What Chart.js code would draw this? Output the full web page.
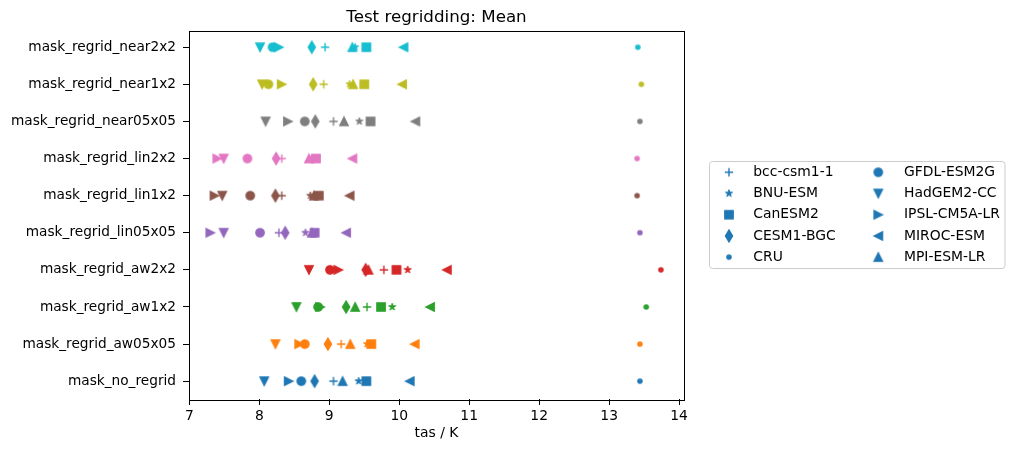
<!DOCTYPE html>
<html>
<head>
<meta charset="utf-8">
<script src="https://cdn.jsdelivr.net/npm/chart.js@4.4.1/dist/chart.umd.min.js"></script>
<style>
  html, body { margin: 0; padding: 0; background: #fff; }
  #wrap { width: 1014px; height: 453px; }
</style>
</head>
<body>
<div id="wrap"><canvas id="regrid"></canvas></div>
<script>
// rows, bottom to top
const rows = [
  "mask_no_regrid", "mask_regrid_aw05x05", "mask_regrid_aw1x2", "mask_regrid_aw2x2",
  "mask_regrid_lin05x05", "mask_regrid_lin1x2", "mask_regrid_lin2x2",
  "mask_regrid_near05x05", "mask_regrid_near1x2", "mask_regrid_near2x2",
];
const rowColors = [
  "#1f77b4", "#ff7f0e", "#2ca02c", "#d62728", "#9467bd",
  "#8c564b", "#e377c2", "#7f7f7f", "#bcbd22", "#17becf",
];

const models = [
  "bcc-csm1-1", "BNU-ESM", "CanESM2", "CESM1-BGC", "CRU",
  "GFDL-ESM2G", "HadGEM2-CC", "IPSL-CM5A-LR", "MIROC-ESM", "MPI-ESM-LR",
];
const markers = ["plus", "star", "square", "thinDiamond", "point", "circle", "triDown", "triRight", "triLeft", "triUp"];

// tas / K per model, one value per row (same order as rows)
const bccCsm = [9.06, 9.17, 9.54, 9.78, 8.28, 8.32, 8.32, 9.06, 8.92, 8.94];
const bnuEsm = [9.42, 9.54, 9.90, 10.12, 8.66, 8.73, 8.75, 9.43, 9.29, 9.37];
const canEsm = [9.53, 9.60, 9.74, 9.96, 8.79, 8.85, 8.81, 9.59, 9.50, 9.53];
const cesmBgc = [8.79, 8.98, 9.24, 9.52, 8.37, 8.23, 8.24, 8.80, 8.77, 8.75];
const cru = [13.44, 13.44, 13.53, 13.74, 13.44, 13.40, 13.40, 13.44, 13.46, 13.41];
const gfdl = [8.60, 8.65, 8.84, 9.01, 8.01, 7.87, 7.83, 8.65, 8.13, 8.19];
const hadgem = [8.07, 8.23, 8.53, 8.71, 7.49, 7.47, 7.49, 8.09, 8.04, 8.01];
const ipsl = [8.42, 8.57, 8.87, 9.13, 7.30, 7.36, 7.40, 8.41, 8.32, 8.28];
const miroc = [10.15, 10.22, 10.44, 10.68, 9.24, 9.29, 9.33, 10.23, 10.04, 10.06];
const mpi = [9.19, 9.30, 9.37, 9.56, 8.75, 8.78, 8.71, 9.21, 9.34, 9.33];
const modelValues = [bccCsm, bnuEsm, canEsm, cesmBgc, cru, gfdl, hadgem, ipsl, miroc, mpi];

const xTicks = [7, 8, 9, 10, 11, 12, 13, 14];

const FONT = "'DejaVu Sans', sans-serif";

// matplotlib-like marker glyphs, drawn once per shape/colour
const cache = {};
function markerCanvas(shape, color) {
  const key = shape + color;
  if (cache[key]) return cache[key];
  const c = document.createElement("canvas");
  c.width = 18; c.height = 18;
  const g = c.getContext("2d");
  const m = 9, s = 4.17;
  g.fillStyle = color;
  g.strokeStyle = color;
  g.lineWidth = 1.39;
  g.beginPath();
  if (shape === "plus") {
    g.moveTo(m - s, m); g.lineTo(m + s, m);
    g.moveTo(m, m - s); g.lineTo(m, m + s);
    g.stroke();
  } else {
    if (shape === "circle") g.arc(m, m, s, 0, Math.PI * 2);
    else if (shape === "point") g.arc(m, m, s / 2, 0, Math.PI * 2);
    else if (shape === "square") g.rect(m - s, m - s, 2 * s, 2 * s);
    else if (shape === "thinDiamond") {
      const h = 5.89, w = 3.54;
      g.moveTo(m, m - h); g.lineTo(m + w, m); g.lineTo(m, m + h); g.lineTo(m - w, m);
    } else if (shape === "star") {
      g.lineWidth = 1;
      for (let i = 0; i < 10; i++) {
        const r = i % 2 ? s * 0.9 * 0.381966 : s * 0.9;
        const a = -Math.PI / 2 + i * Math.PI / 5;
        g.lineTo(m + r * Math.cos(a), m + r * Math.sin(a));
      }
    } else {
      const pts = {
        triUp: [[0, -1], [-1, 1], [1, 1]],
        triDown: [[0, 1], [-1, -1], [1, -1]],
        triRight: [[1, 0], [-1, -1], [-1, 1]],
        triLeft: [[-1, 0], [1, -1], [1, 1]],
      }[shape];
      pts.forEach(p => g.lineTo(m + p[0] * s, m + p[1] * s));
    }
    g.closePath();
    g.fill();
    g.stroke();
  }
  cache[key] = c;
  return c;
}

const datasets = models.map((name, i) => ({
  label: name,
  data: modelValues[i].map((v, r) => ({ x: v, y: r })),
  pointStyle: rows.map((_, r) => markerCanvas(markers[i], rowColors[r])),
  pointRadius: 5,
  order: models.length - i,
}));

const framePlugin = {
  id: "frame",
  afterDraw(chart) {
    const { ctx, chartArea: a } = chart;
    ctx.save();
    ctx.strokeStyle = "#000";
    ctx.lineWidth = 1;
    ctx.strokeRect(Math.round(a.left) + 0.5, Math.round(a.top) + 0.5,
      Math.round(a.right - a.left), Math.round(a.bottom - a.top));

    ctx.fillStyle = "#000";
    ctx.font = "16.7px " + FONT;
    ctx.textAlign = "center";
    ctx.textBaseline = "alphabetic";
    ctx.fillText("Test regridding: Mean", (a.left + a.right) / 2, 22);

    // legend, two columns
    const bx = 709.5, by = 161.5, bw = 295.5, bh = 107;
    ctx.beginPath();
    ctx.roundRect(bx, by, bw, bh, 3);
    ctx.fillStyle = "rgba(255,255,255,0.8)";
    ctx.fill();
    ctx.strokeStyle = "#cccccc";
    ctx.stroke();
    ctx.font = "13.9px " + FONT;
    ctx.textAlign = "left";
    ctx.textBaseline = "middle";
    ctx.fillStyle = "#000";
    models.forEach((name, i) => {
      const col = Math.floor(i / 5), row = i % 5;
      const mx = col ? 878.3 : 729;
      const tx = col ? 904 : 753.3;
      const y = 172.3 + row * 21.2;
      const img = markerCanvas(markers[i], rowColors[0]);
      ctx.drawImage(img, mx - img.width / 2, y - img.height / 2);
      ctx.fillText(name, tx, y);
    });
    ctx.restore();
  },
};

new Chart(document.getElementById("regrid"), {
  type: "scatter",
  data: { datasets },
  plugins: [framePlugin],
  options: {
    responsive: true,
    maintainAspectRatio: false,
    animation: false,
    layout: { padding: { top: 30.5, right: 330, bottom: 0, left: 0 } },
    plugins: { legend: { display: false }, tooltip: { enabled: false } },
    scales: {
      x: {
        type: "linear",
        min: 6.995,
        max: 14.07,
        afterBuildTicks: s => { s.ticks = xTicks.map(v => ({ value: v })); },
        afterFit: s => { s.height = 54; },
        grid: { drawOnChartArea: false, drawTicks: true, tickLength: 6, color: "#000" },
        border: { display: false },
        ticks: { color: "#000", padding: 3, maxRotation: 0, font: { family: FONT, size: 13.9 } },
        title: { display: true, text: "tas / K", color: "#000", padding: { top: 0, bottom: 11 }, font: { family: FONT, size: 13.9 } },
      },
      y: {
        type: "linear",
        min: -0.48,
        max: 9.45,
        afterBuildTicks: s => { s.ticks = rows.map((_, i) => ({ value: i })); },
        afterFit: s => { s.width = 189; },
        grid: { drawOnChartArea: false, drawTicks: true, tickLength: 6, color: "#000" },
        border: { display: false },
        ticks: { color: "#000", padding: 7, callback: v => rows[v], font: { family: FONT, size: 13.7 } },
      },
    },
  },
});
</script>
</body>
</html>
